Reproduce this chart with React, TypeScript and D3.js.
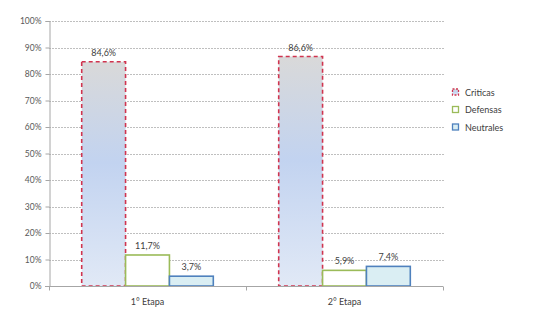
import { useEffect, useRef } from "react";
import * as d3 from "d3";

const categories = ["1° Etapa", "2° Etapa"];
const series = ["Criticas", "Defensas", "Neutrales"];
const criticas = [0.846, 0.866];
const defensas = [0.117, 0.059];
const neutrales = [0.037, 0.074];
const yTicks = [0, 0.1, 0.2, 0.3, 0.4, 0.5, 0.6, 0.7, 0.8, 0.9, 1];

const fmt = (v: number) => (v * 100).toFixed(1).replace(".", ",") + "%";

export default function App() {
  const svgRef = useRef<SVGSVGElement>(null);

  useEffect(() => {
    const width = 535;
    const height = 320;
    const margin = { top: 21, right: 92, bottom: 34, left: 49 };
    const font = "Lato, 'Open Sans', sans-serif";

    const svg = d3.select(svgRef.current);
    svg.selectAll("*").remove();
    svg.attr("width", width).attr("height", height);

    const defs = svg.append("defs");
    const grad = defs
      .append("linearGradient")
      .attr("id", "critGrad")
      .attr("x1", 0)
      .attr("y1", 0)
      .attr("x2", 0)
      .attr("y2", 1);
    grad.append("stop").attr("offset", "0%").attr("stop-color", "#d9d9d9");
    grad.append("stop").attr("offset", "45%").attr("stop-color", "#c2d3f0");
    grad.append("stop").attr("offset", "100%").attr("stop-color", "#e1e9f6");

    const y = d3
      .scaleLinear()
      .domain([0, 1])
      .range([height - margin.bottom, margin.top]);
    const x0 = d3
      .scaleBand()
      .domain(categories)
      .range([margin.left, width - margin.right]);
    const bw = x0.bandwidth();
    const x1 = d3
      .scaleBand()
      .domain(series)
      .range([bw * 0.166, bw * 0.834]);

    // gridlines
    svg
      .append("g")
      .selectAll("line")
      .data(yTicks.slice(1))
      .enter()
      .append("line")
      .attr("x1", margin.left)
      .attr("x2", width - margin.right + 2)
      .attr("y1", (d) => Math.round(y(d)) + 0.5)
      .attr("y2", (d) => Math.round(y(d)) + 0.5)
      .attr("stroke", "#bfbfbf")
      .attr("stroke-dasharray", "2,1");

    // y axis
    const yAxis = svg
      .append("g")
      .attr("transform", `translate(${margin.left + 0.5},0)`)
      .call(
        d3
          .axisLeft(y)
          .tickValues(yTicks)
          .tickSize(4)
          .tickPadding(4)
          .tickFormat((d) => d3.format(".0%")(d as number))
      );
    yAxis
      .selectAll("text")
      .attr("fill", "#595959")
      .attr("font-size", "8.5")
      .attr("font-family", font);
    yAxis.selectAll(".domain, .tick line").attr("stroke", "#a6a6a6");

    // bars
    const styles: Record<string, { fill: string; stroke: string; dash: string | null }> = {
      Criticas: { fill: "url(#critGrad)", stroke: "#d0344f", dash: "4,3" },
      Defensas: { fill: "#ffffff", stroke: "#9bbb59", dash: null },
      Neutrales: { fill: "#daeef3", stroke: "#4f81bd", dash: null },
    };
    const values: Record<string, number[]> = {
      Criticas: criticas,
      Defensas: defensas,
      Neutrales: neutrales,
    };

    const rows = categories.flatMap((c, i) =>
      series.map((s) => ({ cat: c, s, v: values[s][i] }))
    );

    const g = svg.append("g");
    g.selectAll("rect")
      .data(rows)
      .enter()
      .append("rect")
      .attr("x", (d) => x0(d.cat)! + x1(d.s)!)
      .attr("y", (d) => y(d.v))
      .attr("width", x1.bandwidth())
      .attr("height", (d) => y(0) - y(d.v))
      .attr("fill", (d) => styles[d.s].fill)
      .attr("stroke", (d) => styles[d.s].stroke)
      .attr("stroke-width", 1.6)
      .attr("stroke-dasharray", (d) => styles[d.s].dash);

    g.selectAll("text.val")
      .data(rows)
      .enter()
      .append("text")
      .attr("class", "val")
      .attr("x", (d) => x0(d.cat)! + x1(d.s)! + x1.bandwidth() / 2)
      .attr("y", (d) => y(d.v) - 6)
      .attr("text-anchor", "middle")
      .attr("font-size", "9")
      .attr("font-family", font)
      .attr("fill", "#404040")
      .text((d) => fmt(d.v));

    // x axis
    const xAxis = svg
      .append("g")
      .attr("transform", `translate(0,${y(0) + 0.5})`)
      .call(d3.axisBottom(x0).tickSize(0).tickPadding(12));
    xAxis
      .selectAll("text")
      .attr("fill", "#404040")
      .attr("font-size", "9")
      .attr("font-family", font);
    xAxis.select(".domain").attr("stroke", "#a6a6a6").attr("d", `M${margin.left - 4},0H${width - margin.right}`);
    xAxis
      .selectAll("line.sep")
      .data([x0.range()[0], x0(categories[1])!, x0.range()[1]])
      .enter()
      .append("line")
      .attr("class", "sep")
      .attr("x1", (d) => d + 0.5)
      .attr("x2", (d) => d + 0.5)
      .attr("y1", 0)
      .attr("y2", 4)
      .attr("stroke", "#a6a6a6");

    // legend
    const legend = svg
      .append("g")
      .attr("transform", `translate(452,${y(0.7) - 8})`);
    const item = legend
      .selectAll("g")
      .data(series)
      .enter()
      .append("g")
      .attr("transform", (_d, i) => `translate(0,${i * 17.5})`);
    item
      .append("rect")
      .attr("x", 0.5)
      .attr("y", -3.5)
      .attr("width", 6)
      .attr("height", 6)
      .attr("fill", (d) => styles[d].fill)
      .attr("stroke", (d) => styles[d].stroke)
      .attr("stroke-width", 1.3)
      .attr("stroke-dasharray", (d) => (styles[d].dash ? "2,1.5" : null));
    item
      .append("text")
      .attr("x", 13)
      .attr("y", 3)
      .attr("font-size", "9")
      .attr("font-family", font)
      .attr("fill", "#404040")
      .text((d) => d);
  }, []);

  return <svg ref={svgRef} style={{ position: "absolute", left: 0, top: 0, background: "#fff" }} />;
}
